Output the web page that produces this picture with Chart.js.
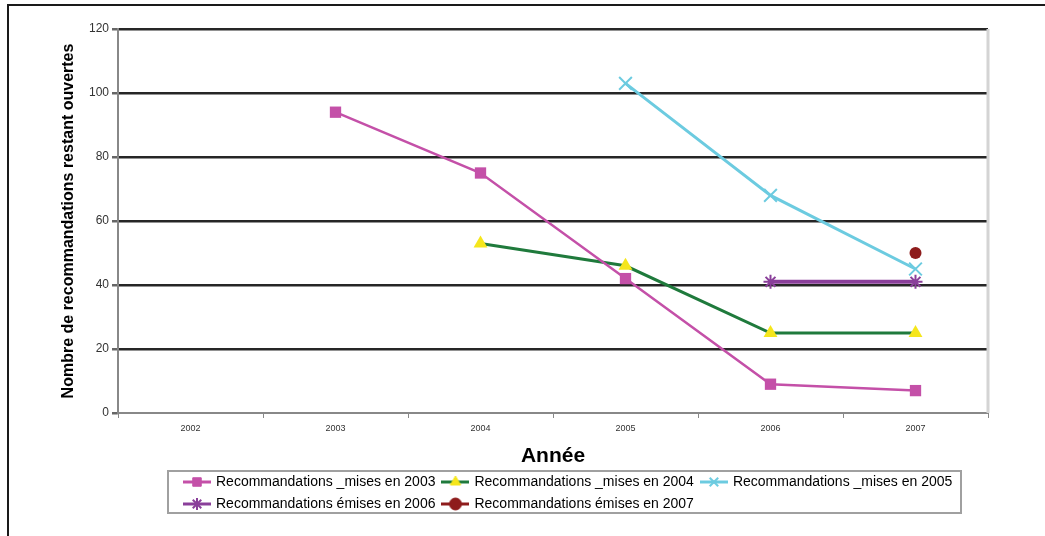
<!DOCTYPE html>
<html>
<head>
<meta charset="utf-8">
<script src="https://cdn.jsdelivr.net/npm/chart.js@4.4.1/dist/chart.umd.min.js"></script>
<style>
  html, body { margin:0; padding:0; background:#fff; }
  #wrap { width:1045px; height:536px; position:relative; }
</style>
</head>
<body>
<div id="wrap"><canvas id="chart"></canvas></div>
<script>
// ================= DATA =================
const years = ["2002","2003","2004","2005","2006","2007"];
const rec2003 = [null, 94, 75, 42, 9, 7];
const rec2004 = [null, null, 53, 46, 25, 25];
const rec2005 = [null, null, null, 103, 68, 45];
const rec2006 = [null, null, null, null, 41, 41];
const rec2007 = [null, null, null, null, null, 50];
const seriesNames = [
  "Recommandations _mises en 2003",
  "Recommandations _mises en 2004",
  "Recommandations _mises en 2005",
  "Recommandations émises en 2006",
  "Recommandations émises en 2007"
];
const yMin = 0, yMax = 120, yStep = 20;
const xTitle = "Année";
const yTitle = "Nombre de recommandations restant ouvertes";

// ================= STYLES =================
const styles = [
  {line:"#c450a8", fill:"#c450a8", point:"rect",     radius:8, width:2.5, pbw:0},
  {line:"#1f7a3c", fill:"#f5e61c", point:"triangle", radius:8, width:3,   pbw:0},
  {line:"#6ccbe0", fill:"#6ccbe0", point:"crossRot", radius:9, width:3,   pbw:2},
  {line:"#8a3f9a", fill:"#8a3f9a", point:"star",     radius:7, width:4,   pbw:2},
  {line:"#8e1c1c", fill:"#8e1c1c", point:"circle",   radius:6, width:3,   pbw:0}
];
const seriesData = [rec2003, rec2004, rec2005, rec2006, rec2007];

// small legend glyph: line with marker in the middle
function legendGlyph(s){
  const c = document.createElement("canvas");
  c.width = 28; c.height = 14;
  const ctx = c.getContext("2d");
  ctx.strokeStyle = s.line;
  ctx.lineWidth = 3;
  ctx.beginPath(); ctx.moveTo(0,7); ctx.lineTo(28,7); ctx.stroke();
  ctx.fillStyle = s.fill;
  ctx.strokeStyle = s.point === "triangle" ? s.fill : s.line;
  ctx.lineWidth = s.pbw || 1;
  Chart.helpers.drawPoint(ctx, {pointStyle:s.point, radius:Math.min(s.radius, 6), borderWidth:s.pbw || 1, rotation:0}, 14, 7);
  return c;
}

const datasets = seriesData.map((d,i)=>({
  label: seriesNames[i],
  data: d,
  borderColor: styles[i].line,
  backgroundColor: styles[i].fill,
  borderWidth: styles[i].width,
  pointStyle: styles[i].point,
  pointRadius: styles[i].radius,
  pointBackgroundColor: styles[i].fill,
  pointBorderColor: styles[i].point === "triangle" ? styles[i].fill : styles[i].line,
  pointBorderWidth: styles[i].pbw,
  tension: 0,
  spanGaps: false
}));

// ================= DECORATION =================
const framePlugin = {
  id: "frame",
  afterLayout(chart){
    const lg = chart.legend;
    lg.left = 177;
    lg.right = 961;
  },
  beforeDraw(chart){
    const ctx = chart.ctx;
    ctx.save();
    ctx.strokeStyle = "#1a1a1a";
    ctx.lineWidth = 2;
    ctx.beginPath();
    ctx.moveTo(8, 536); ctx.lineTo(8, 5); ctx.lineTo(1045, 5);
    ctx.stroke();
    ctx.restore();
  },
  beforeDatasetsDraw(chart){
    const {ctx, chartArea:a} = chart;
    ctx.save();
    ctx.strokeStyle = "#d4d4d4";
    ctx.lineWidth = 3;
    ctx.beginPath();
    ctx.moveTo(a.right, a.top); ctx.lineTo(a.right, a.bottom);
    ctx.stroke();
    ctx.restore();
  },
  afterDraw(chart){
    const ctx = chart.ctx;
    const lg = chart.legend;
    ctx.save();
    ctx.strokeStyle = "#a0a0a0";
    ctx.lineWidth = 2;
    ctx.strokeRect(168, lg.top + 4, 793, 42);
    ctx.restore();
  }
};

new Chart(document.getElementById("chart"), {
  type: "line",
  data: { labels: years, datasets },
  plugins: [framePlugin],
  options: {
    responsive: true,
    maintainAspectRatio: false,
    animation: false,
    layout: { padding: { left: 0, top: 29, right: 57, bottom: 15 } },
    plugins: {
      tooltip: { enabled: false },
      legend: {
        position: "bottom",
        align: "start",
        labels: {
          usePointStyle: true,
          pointStyleWidth: 24,
          padding: 8,
          color: "#111",
          font: { family: "Arial, 'Liberation Sans', sans-serif", size: 14 },
          generateLabels(chart){
            return chart.data.datasets.map((ds,i)=>({
              text: ds.label,
              pointStyle: legendGlyph(styles[i]),
              fillStyle: styles[i].fill,
              strokeStyle: styles[i].line,
              lineWidth: 0,
              hidden: false,
              datasetIndex: i
            }));
          }
        }
      }
    },
    scales: {
      x: {
        offset: true,
        afterFit(scale){ scale.height = 54; },
        grid: { offset: true, drawOnChartArea: false, drawTicks: true, tickLength: 5, tickColor: "#888" },
        border: { color: "#888", width: 2 },
        ticks: { color: "#333", padding: 5, font: { family: "Arial, 'Liberation Sans', sans-serif", size: 9 } },
        title: {
          display: true, text: xTitle, color: "#000",
          padding: { top: 0, bottom: 0 },
          font: { family: "Arial, 'Liberation Sans', sans-serif", size: 21, weight: "bold", lineHeight: 1 }
        }
      },
      y: {
        min: yMin, max: yMax,
        afterFit(scale){ scale.width = 118; },
        grid: {
          color: ctx => ctx.tick && ctx.tick.value === 0 ? "rgba(0,0,0,0)" : "#262626",
          lineWidth: 2.5, tickLength: 6, tickColor: "#666"
        },
        border: { color: "#888", width: 2 },
        ticks: { stepSize: yStep, color: "#333", padding: 3, font: { family: "Arial, 'Liberation Sans', sans-serif", size: 12 } },
        title: {
          display: true, text: yTitle, color: "#000",
          padding: { top: 59, bottom: 0 },
          font: { family: "Arial, 'Liberation Sans', sans-serif", size: 16, weight: "bold" }
        }
      }
    }
  }
});
</script>
</body>
</html>
